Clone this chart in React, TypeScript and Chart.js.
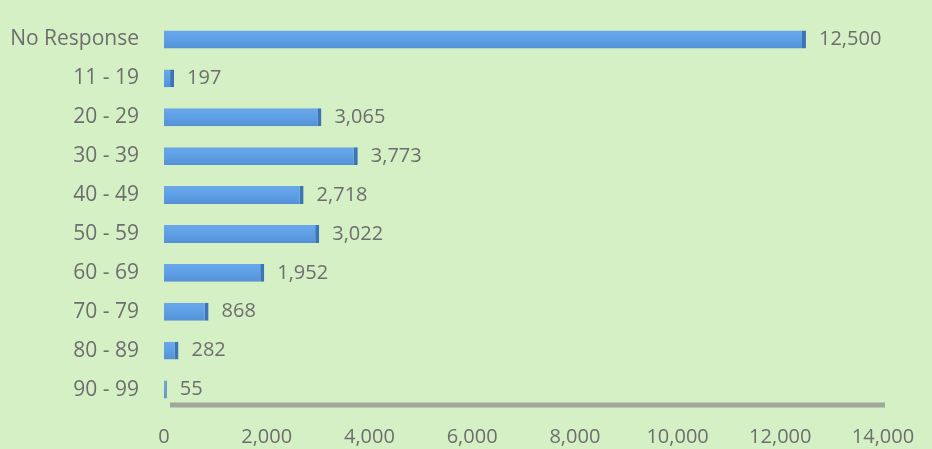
import React, { useEffect, useRef } from "react";
import { Chart, registerables } from "chart.js";

Chart.register(...registerables);

const categories = ["No Response", "11 - 19", "20 - 29", "30 - 39", "40 - 49", "50 - 59", "60 - 69", "70 - 79", "80 - 89", "90 - 99"];
const values = [12500, 197, 3065, 3773, 2718, 3022, 1952, 868, 282, 55];
const xTicksMax = 14000;
const xTickStep = 2000;

const FONT = "'Open Sans', sans-serif";
const TEXT = "#6e6e6e";
const BG = "rgb(212,240,196)";

const fmt = (v: number) => v.toLocaleString("en-US");

const floorPlugin = {
  id: "floor",
  beforeDatasetsDraw(chart: any) {
    const { ctx, chartArea } = chart;
    ctx.save();
    ctx.strokeStyle = "rgba(150,155,150,0.85)";
    ctx.lineWidth = 5;
    ctx.beginPath();
    ctx.moveTo(chartArea.left + 6, chartArea.bottom - 4);
    ctx.lineTo(chartArea.right + 2, chartArea.bottom - 4);
    ctx.stroke();
    ctx.restore();
  },
};

const labelPlugin = {
  id: "valueLabels",
  afterDatasetsDraw(chart: any) {
    const { ctx } = chart;
    const meta = chart.getDatasetMeta(0);
    ctx.save();
    ctx.font = `20px ${FONT}`;
    ctx.fillStyle = TEXT;
    ctx.textAlign = "left";
    ctx.textBaseline = "middle";
    meta.data.forEach((bar: any, i: number) => {
      ctx.fillText(fmt(values[i]), bar.x + 13, bar.y);
    });
    ctx.restore();
  },
};

export default function App() {
  const ref = useRef<HTMLCanvasElement>(null);
  useEffect(() => {
    if (!ref.current) return;
    const chart = new Chart(ref.current, {
      type: "bar",
      data: {
        labels: categories,
        datasets: [
          {
            data: values,
            backgroundColor: (c: any) => {
              const { ctx, chartArea, scales } = c.chart;
              if (!chartArea || !scales || !scales.y || c.dataIndex === undefined) return "#5d9ee4";
              const yc = scales.y.getPixelForValue(c.dataIndex);
              if (!Number.isFinite(yc)) return "#5d9ee4";
              const h = 9;
              const g = ctx.createLinearGradient(0, yc - h, 0, yc + h);
              g.addColorStop(0, "#6aa8ea");
              g.addColorStop(0.5, "#5e9fe5");
              g.addColorStop(1, "#5590d6");
              return g;
            },
            borderColor: "#3d74b8",
            borderWidth: { left: 0, top: 0, bottom: 0, right: 4 },
            borderSkipped: false,
            barPercentage: 0.82,
            categoryPercentage: 0.56,
          },
        ],
      },
      options: {
        indexAxis: "y",
        animation: false,
        responsive: false,
        maintainAspectRatio: false,
        layout: { padding: { top: 20, right: 49, left: 8, bottom: 0 } },
        plugins: { legend: { display: false }, tooltip: { enabled: false } },
        scales: {
          x: {
            min: 0,
            max: xTicksMax,
            grid: { display: false, drawTicks: false },
            border: { display: false },
            afterFit: (scale: any) => {
              scale.height = 40;
            },
            ticks: {
              stepSize: xTickStep,
              color: TEXT,
              font: { family: FONT, size: 20 },
              padding: 16,
              callback: (v: any) => fmt(Number(v)),
            },
          },
          y: {
            grid: { display: false, drawTicks: false },
            border: { display: false },
            afterFit: (scale: any) => {
              scale.width = 156;
              scale.paddingTop = 0;
              scale.paddingBottom = 0;
            },
            ticks: {
              color: TEXT,
              font: { family: FONT, size: 21 },
              padding: 25,
            },
          },
        },
      },
      plugins: [floorPlugin, labelPlugin],
    });
    return () => chart.destroy();
  }, []);
  return (
    <div style={{ position: "fixed", left: 0, top: 0, width: 932, height: 449, background: BG }}>
      <canvas ref={ref} width={932} height={449} style={{ display: "block" }} />
    </div>
  );
}
